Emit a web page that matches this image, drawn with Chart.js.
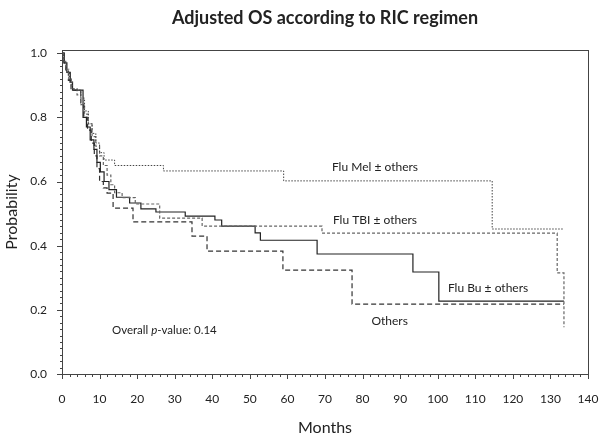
<!DOCTYPE html>
<html>
<head>
<meta charset="utf-8">
<script src="https://cdn.jsdelivr.net/npm/chart.js@4.4.1/dist/chart.umd.min.js"></script>
<style>
  body { margin: 0; background: #fff; }
  #wrap { width: 601px; height: 439px; }
</style>
</head>
<body>
<div id="wrap"><canvas id="kmChart"></canvas></div>
<script>
// tick labels
const xTicks = [0, 10, 20, 30, 40, 50, 60, 70, 80, 90, 100, 110, 120, 130, 140];
const yTicks = [0, 0.2, 0.4, 0.6, 0.8, 1.0];

// Kaplan-Meier steps (months, probability)
const melTime = [0, 0.5, 1.2, 2, 2.8, 5, 6, 7, 8, 9, 10, 11.2, 14, 27, 59, 114.5, 133.6];
const melSurv = [1, 0.97, 0.94, 0.91, 0.885, 0.86, 0.82, 0.78, 0.75, 0.72, 0.69, 0.667, 0.65, 0.633, 0.602, 0.452, 0.452];

const tbiTime = [0, 0.4, 1, 1.8, 2.5, 4, 5, 6, 7, 8, 9, 10, 11, 12, 13, 14, 16, 19.5, 26, 37.3, 69.2, 131.8, 133.6];
const tbiSurv = [1, 0.975, 0.95, 0.92, 0.89, 0.87, 0.84, 0.81, 0.78, 0.74, 0.71, 0.68, 0.65, 0.62, 0.59, 0.565, 0.55, 0.53, 0.486, 0.461, 0.439, 0.315, 0.146];

const buTime = [0, 0.6, 1.3, 2.2, 2.8, 5.6, 6.5, 7.5, 8.5, 9.3, 10.2, 11.2, 12.5, 14.5, 18, 21, 25, 32.8, 40.7, 42.5, 51.4, 52.8, 67.9, 93.4, 100.3, 133.6];
const buSurv = [1, 0.97, 0.94, 0.91, 0.885, 0.8, 0.77, 0.73, 0.7, 0.66, 0.63, 0.6, 0.575, 0.551, 0.533, 0.515, 0.505, 0.492, 0.48, 0.461, 0.44, 0.417, 0.374, 0.318, 0.227, 0.227];

const othTime = [0, 0.5, 1, 1.7, 2.4, 5, 5.8, 6.8, 7.8, 8.6, 9.3, 10, 11, 12, 13.6, 18.9, 34.6, 38.6, 58.8, 77.2, 133.6];
const othSurv = [1, 0.97, 0.945, 0.915, 0.885, 0.84, 0.8, 0.76, 0.72, 0.68, 0.64, 0.6, 0.58, 0.564, 0.517, 0.474, 0.43, 0.383, 0.324, 0.218, 0.218];

const textFont = "Lato, 'DejaVu Sans', sans-serif";
const ink = "#222";

function pts(t, s) {
  return t.map((v, i) => ({ x: v, y: s[i] }));
}

// curve labels, placed in data units
const notes = [
  { text: "Flu Mel \u00b1 others", x: 83.3, y: 0.646, align: "center" },
  { text: "Flu TBI \u00b1 others", x: 83.3, y: 0.48, align: "center" },
  { text: "Flu Bu \u00b1 others", x: 113.4, y: 0.267, align: "center" },
  { text: "Others", x: 87.2, y: 0.165, align: "center" }
];

const framePlugin = {
  id: "frameTicks",
  afterDraw(chart) {
    const ctx = chart.ctx;
    const a = chart.chartArea;
    const xs = chart.scales.x, ys = chart.scales.y;
    ctx.save();
    ctx.strokeStyle = "#444";
    ctx.lineWidth = 1;
    ctx.strokeRect(Math.round(a.left) + 0.5, Math.round(a.top) + 0.5,
      Math.round(a.right - a.left), Math.round(a.bottom - a.top));
    ctx.beginPath();
    for (let m = 0; m <= 140; m += 2) {
      const px = Math.round(xs.getPixelForValue(m)) + 0.5;
      const len = m % 10 === 0 ? 5 : 3;
      ctx.moveTo(px, a.bottom);
      ctx.lineTo(px, a.bottom + len);
    }
    for (let k = 0; k <= 50; k++) {
      const py = Math.round(ys.getPixelForValue(k * 0.02)) + 0.5;
      const len = k % 10 === 0 ? 5 : 2;
      ctx.moveTo(a.left, py);
      ctx.lineTo(a.left - len, py);
    }
    ctx.stroke();
    ctx.restore();
  },
  afterDatasetsDraw(chart) {
    const ctx = chart.ctx;
    const xs = chart.scales.x, ys = chart.scales.y;
    ctx.save();
    ctx.fillStyle = ink;
    ctx.font = "12px " + textFont;
    ctx.textBaseline = "middle";
    notes.forEach(n => {
      ctx.textAlign = n.align;
      ctx.fillText(n.text, xs.getPixelForValue(n.x), ys.getPixelForValue(n.y));
    });
    // overall p-value, with italic p
    let px = xs.getPixelForValue(13.3);
    const py = ys.getPixelForValue(0.137);
    ctx.textAlign = "left";
    ctx.font = "11.5px " + textFont;
    ctx.fillText("Overall ", px, py);
    px += ctx.measureText("Overall ").width;
    ctx.font = "italic 11.5px " + textFont;
    ctx.fillText("p", px, py);
    px += ctx.measureText("p").width;
    ctx.font = "11.5px " + textFont;
    ctx.fillText("-value: 0.14", px, py);
    ctx.restore();
  }
};

new Chart(document.getElementById("kmChart"), {
  type: "scatter",
  data: {
    datasets: [
      {
        label: "Flu Mel",
        data: pts(melTime, melSurv),
        borderColor: "#444",
        borderWidth: 1,
        borderDash: [1.5, 1.5],
      },
      {
        label: "Flu TBI",
        data: pts(tbiTime, tbiSurv),
        borderColor: "#666",
        borderWidth: 1.2,
        borderDash: [3, 2],
      },
      {
        label: "Flu Bu",
        data: pts(buTime, buSurv),
        borderColor: "#222",
        borderWidth: 1.2,
      },
      {
        label: "Others",
        data: pts(othTime, othSurv),
        borderColor: "#333",
        borderWidth: 1.2,
        borderDash: [5, 3],
      },
    ].map(d => Object.assign(d, { showLine: true, stepped: true, pointRadius: 0, fill: false })),
  },
  options: {
    responsive: true,
    maintainAspectRatio: false,
    animation: false,
    layout: { padding: { left: 0, right: 13, top: 0, bottom: 0 } },
    plugins: {
      legend: { display: false },
      tooltip: { enabled: false },
      title: {
        display: true,
        fullSize: false,
        text: "Adjusted OS according to RIC regimen",
        color: ink,
        font: { family: textFont, size: 18, weight: "bold", lineHeight: 1.2 },
        padding: { top: 7, bottom: 21.4 },
      },
    },
    scales: {
      x: {
        type: "linear",
        min: 0,
        max: 140,
        afterFit: s => { s.height = 65; s.paddingLeft = 0; s.paddingRight = 0; },
        afterBuildTicks: s => { s.ticks = xTicks.map(v => ({ value: v })); },
        grid: { display: false },
        border: { display: false },
        ticks: {
          color: ink,
          font: { family: textFont, size: 12 },
          padding: 10,
          autoSkip: false,
          maxRotation: 0,
        },
        title: {
          display: true,
          text: "Months",
          color: ink,
          font: { family: textFont, size: 16 },
          padding: { top: 4, bottom: 2 },
        },
      },
      y: {
        min: 0,
        max: 1.01,
        afterFit: s => { s.width = 62; s.paddingTop = 0; s.paddingBottom = 0; },
        afterBuildTicks: s => { s.ticks = yTicks.map(v => ({ value: v })); },
        grid: { display: false },
        border: { display: false },
        ticks: {
          color: ink,
          font: { family: textFont, size: 12 },
          padding: 7,
          callback: v => v.toFixed(1),
        },
        title: {
          display: true,
          text: "Probability",
          color: ink,
          font: { family: textFont, size: 16 },
          padding: { top: 2, bottom: 0 },
        },
      },
    },
  },
  plugins: [framePlugin],
});
</script>
</body>
</html>
